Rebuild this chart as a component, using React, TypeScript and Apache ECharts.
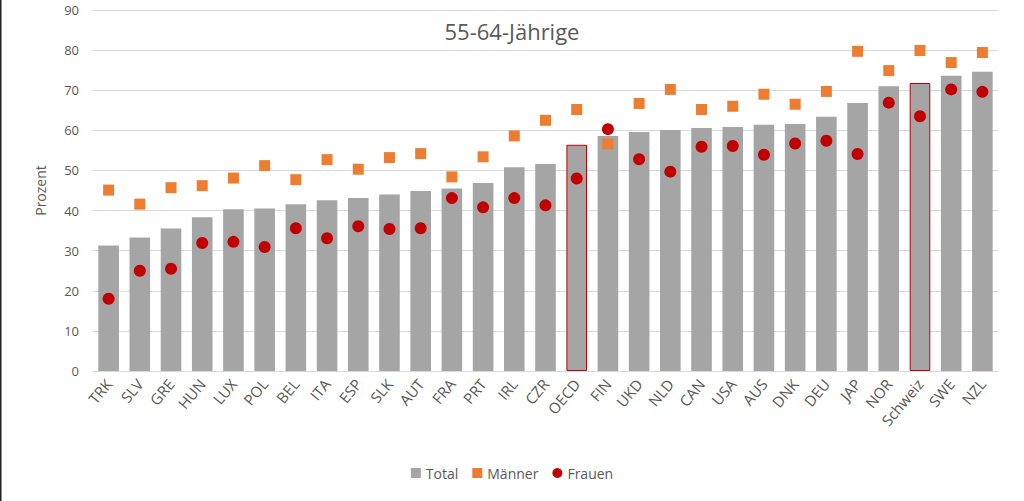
import React, { useEffect, useRef } from "react";
import * as echarts from "echarts";

const categories = ["TRK","SLV","GRE","HUN","LUX","POL","BEL","ITA","ESP","SLK","AUT","FRA","PRT","IRL","CZR","OECD","FIN","UKD","NLD","CAN","USA","AUS","DNK","DEU","JAP","NOR","Schweiz","SWE","NZL"];
const totalValues = [31.3,33.3,35.5,38.3,40.3,40.5,41.6,42.6,43.1,44.0,44.9,45.5,46.9,50.8,51.6,56.4,58.6,59.6,60.1,60.6,60.8,61.4,61.6,63.4,66.8,71.0,71.8,73.6,74.6];
const maennerValues = [45.1,41.6,45.7,46.2,48.1,51.2,47.7,52.7,50.3,53.2,54.2,48.4,53.4,58.6,62.5,65.2,56.6,66.7,70.2,65.2,66.0,69.0,66.5,69.7,79.7,74.9,79.9,76.9,79.4];
const frauenValues = [18.0,25.0,25.5,31.9,32.2,30.9,35.6,33.1,36.1,35.4,35.6,43.1,40.8,43.1,41.3,48.0,60.3,52.8,49.7,55.9,56.1,53.9,56.7,57.4,54.1,66.9,63.5,70.2,69.6];
const highlighted = ["OECD", "Schweiz"];
const yTicks = { min: 0, max: 90, interval: 10 };

const FONT = "'Open Sans', 'Noto Sans', sans-serif";
const TXT = "#595959";

export default function App() {
  const ref = useRef<HTMLDivElement>(null);
  useEffect(() => {
    if (!ref.current) return;
    const chart = echarts.init(ref.current, null, { renderer: "svg" });
    chart.setOption({
      animation: false,
      textStyle: { fontFamily: FONT },
      title: {
        text: "55-64-Jährige",
        left: "center",
        top: 15,
        textStyle: { fontFamily: FONT, fontSize: 22, fontWeight: "normal", color: TXT },
      },
      legend: {
        bottom: 16,
        left: "center",
        itemWidth: 10,
        itemHeight: 10,
        itemGap: 14,
        textStyle: { fontFamily: FONT, fontSize: 14, color: TXT },
        data: [
          { name: "Total", icon: "rect" },
          { name: "Männer", icon: "rect" },
          { name: "Frauen", icon: "circle" },
        ],
      },
      graphic: [
        { type: "rect", shape: { x: 0, y: 0, width: 1.5, height: 501 }, style: { fill: "#222" } },
      ],
      grid: { left: 93, right: 26, top: 10, bottom: 130 },
      xAxis: {
        type: "category",
        data: categories,
        axisLine: { lineStyle: { color: "#d9d9d9" } },
        axisTick: { show: false },
        axisLabel: { rotate: 50, fontSize: 15, color: TXT, fontFamily: FONT, margin: 10, interval: 0 },
      },
      yAxis: {
        type: "value",
        min: yTicks.min,
        max: yTicks.max,
        interval: yTicks.interval,
        name: "Prozent",
        nameLocation: "middle",
        nameGap: 46,
        nameTextStyle: { fontSize: 14, color: TXT, fontFamily: FONT },
        axisLine: { show: false },
        axisTick: { show: false },
        axisLabel: { fontSize: 13, color: TXT, fontFamily: FONT, margin: 14 },
        splitLine: { lineStyle: { color: "#d9d9d9", width: 1 } },
      },
      series: [
        {
          name: "Total",
          type: "bar",
          barWidth: "66%",
          itemStyle: { color: "#a5a5a5" },
          data: totalValues.map((v, i) =>
            highlighted.includes(categories[i])
              ? { value: v, itemStyle: { color: "#a5a5a5", borderColor: "#c00000", borderWidth: 1 } }
              : v
          ),
        },
        {
          name: "Männer",
          type: "scatter",
          symbol: "rect",
          symbolSize: 11,
          itemStyle: { color: "#ed7d31", opacity: 1 },
          data: maennerValues,
          z: 3,
        },
        {
          name: "Frauen",
          type: "scatter",
          symbol: "circle",
          symbolSize: 12,
          itemStyle: { color: "#c00000", opacity: 1 },
          data: frauenValues,
          z: 4,
        },
      ],
    });
    return () => chart.dispose();
  }, []);
  return (
    <div
      ref={ref}
      style={{ position: "fixed", left: 0, top: 0, width: 1024, height: 501, background: "#fff" }}
    />
  );
}
